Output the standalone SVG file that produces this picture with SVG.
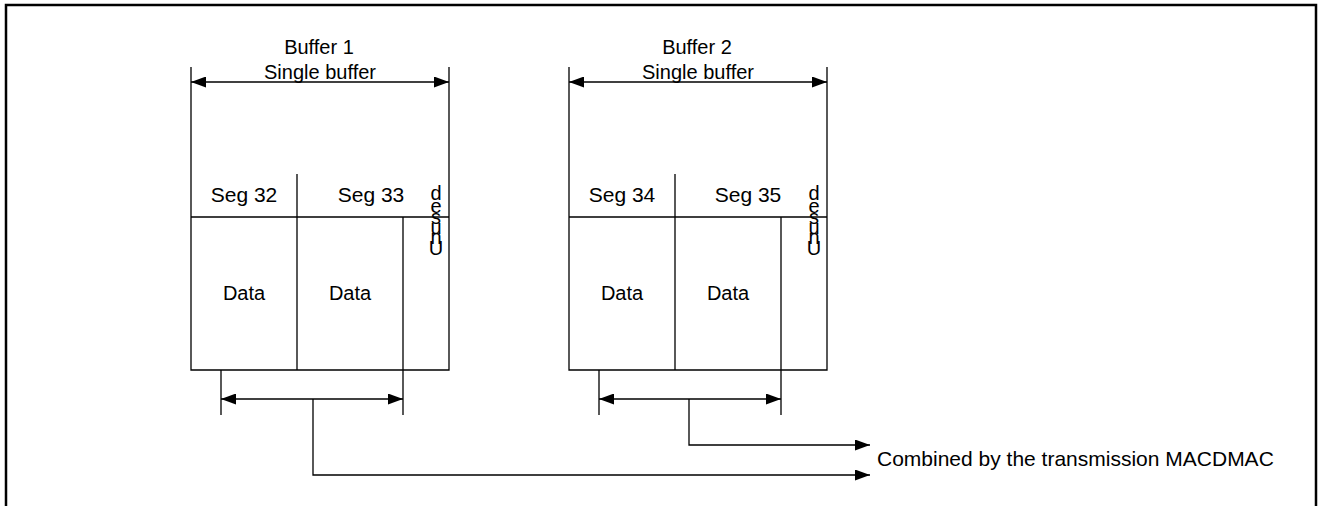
<svg xmlns="http://www.w3.org/2000/svg" width="1322" height="506" viewBox="0 0 1322 506">
<style>
  .ln{stroke:#000;stroke-width:1.3;fill:none}
  .fr{stroke:#000;stroke-width:2.5;fill:none}
  .t{font-family:"Liberation Sans",Arial,sans-serif;font-size:20px;fill:#000}
  .b{font-size:21px}
  .m{text-anchor:middle}
</style>
<defs>
  <marker id="ah" viewBox="0 0 15 11" refX="15" refY="5.5" markerWidth="15" markerHeight="11" markerUnits="userSpaceOnUse" orient="auto-start-reverse">
    <path d="M0,0 L15,5.5 L0,11 Z" fill="#000"/>
  </marker>
</defs>
<rect width="1322" height="506" fill="#fff"/>
<path class="fr" d="M6,506 V5 H1316 V506"/>

<g id="buffer1">
  <text class="t m" x="319" y="54">Buffer 1</text>
  <text class="t m" x="320" y="79">Single buffer</text>
  <path class="ln" d="M191,67 V370 H449 V67 M191,217 H449 M297,174 V370 M403,217 V415 M221,370 V415"/>
  <line class="ln" x1="191" y1="82" x2="449" y2="82" marker-start="url(#ah)" marker-end="url(#ah)"/>
  <text class="t b m" x="244" y="202">Seg 32</text>
  <text class="t b m" x="371" y="202">Seg 33</text>
  <text class="t m" x="244" y="300">Data</text>
  <text class="t m" x="350" y="300">Data</text>
  <text class="t m" x="436 436 436 436 436 436" y="255 244 234 224 213 200">Unused</text>
</g>

<g id="buffer2">
  <text class="t m" x="697" y="54">Buffer 2</text>
  <text class="t m" x="698" y="79">Single buffer</text>
  <path class="ln" d="M569,67 V370 H827 V67 M569,217 H827 M675,174 V370 M781,217 V415 M599,370 V415"/>
  <line class="ln" x1="569" y1="82" x2="827" y2="82" marker-start="url(#ah)" marker-end="url(#ah)"/>
  <text class="t b m" x="622" y="202">Seg 34</text>
  <text class="t b m" x="748" y="202">Seg 35</text>
  <text class="t m" x="622" y="300">Data</text>
  <text class="t m" x="728" y="300">Data</text>
  <text class="t m" x="814 814 814 814 814 814" y="255 244 234 224 213 200">Unused</text>
</g>

<g id="connectors">
  <line class="ln" x1="221" y1="399" x2="403" y2="399" marker-start="url(#ah)" marker-end="url(#ah)"/>
  <line class="ln" x1="599" y1="399" x2="781" y2="399" marker-start="url(#ah)" marker-end="url(#ah)"/>
  <path class="ln" d="M313,399 V475 H870" marker-end="url(#ah)"/>
  <path class="ln" d="M689,399 V445 H870" marker-end="url(#ah)"/>
</g>

<g id="label">
  <text class="t b" x="877" y="466">Combined by the transmission MACDMAC</text>
</g>
</svg>
